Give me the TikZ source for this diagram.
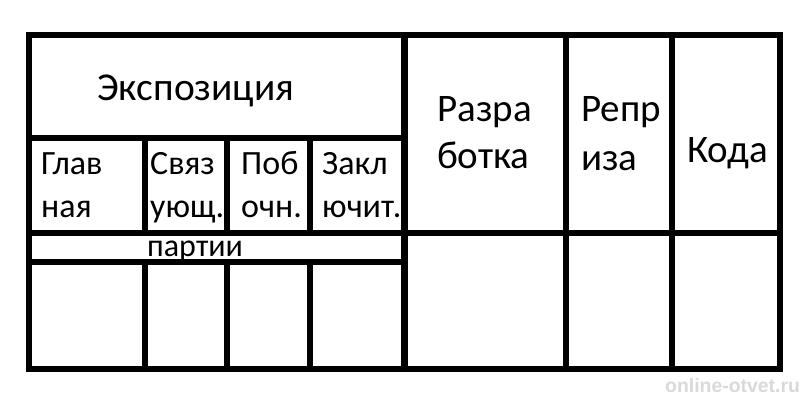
\documentclass[tikz,border=0pt]{standalone}
\usepackage{fontspec}
\setmainfont{Carlito}
\newfontfamily\wmfont{Liberation Sans}
\begin{document}
\begin{tikzpicture}[x=1pt,y=-1pt,
  frame/.style={line width=6pt, draw=black},
  big/.style={font=\fontsize{39.5}{44}\selectfont, anchor=base west, inner sep=0pt},
  col/.style={font=\fontsize{39}{44}\selectfont, anchor=base west, inner sep=0pt},
  cell/.style={font=\fontsize{34}{40}\selectfont, anchor=base west, inner sep=0pt},
  small/.style={font=\fontsize{32}{36}\selectfont, anchor=base west, inner sep=0pt},
  wmark/.style={font=\wmfont\bfseries\fontsize{19.4}{22}\selectfont, text=gray!30, anchor=base west, inner sep=0pt}]
\useasboundingbox[fill=white] (0,0) rectangle (808,400);
% outer frame
\coordinate (tl) at (29,35);
\coordinate (br) at (779.5,369);
\draw[frame] (tl) rectangle (br);
% full-height verticals
\coordinate (v1t) at (404.5,35); \coordinate (v1b) at (404.5,369);
\coordinate (v2t) at (565.5,35); \coordinate (v2b) at (565.5,369);
\coordinate (v3t) at (671.5,35); \coordinate (v3b) at (671.5,369);
\draw[line width=7pt] (v1t) -- (v1b);
\draw[frame] (v2t) -- (v2b);
\draw[frame] (v3t) -- (v3b);
% horizontals
\coordinate (h1l) at (29,137.5); \coordinate (h1r) at (404.5,137.5);
\coordinate (h2l) at (29,233); \coordinate (h2r) at (779.5,233);
\coordinate (h3l) at (29,262); \coordinate (h3r) at (404.5,262);
\draw[frame] (h1l) -- (h1r);
\draw[frame] (h2l) -- (h2r);
\draw[frame] (h3l) -- (h3r);
% short verticals (sub-row and bottom row)
\foreach \x in {144.5,226.5,310} {
  \draw[frame] (\x,137.5) -- (\x,233);
  \draw[frame] (\x,262) -- (\x,369);
}
% texts
\node[big] (expo) at (97,100) {Экспозиция};
\node[cell] (glav1) at (41,174) {Глав};
\node[cell] (glav2) at (41,217) {ная};
\node[cell] (svyaz1) at (150,174) {Связ};
\node[cell] (svyaz2) at (150,217) {ующ.};
\node[cell] (pob1) at (241,174) {Поб};
\node[cell] (pob2) at (241,217) {очн.};
\node[cell] (zakl1) at (322,174) {Закл};
\node[cell] (zakl2) at (322,217) {ючит.};
\node[small] (partii) at (147,256) {партии};
\node[col] (razr1) at (437,121) {Разра};
\node[col] (razr2) at (437,168) {ботка};
\node[col] (repr1) at (581,121) {Репр};
\node[col] (repr2) at (581,170) {иза};
\node[col] (koda) at (687,162) {Кода};
\node[wmark] (wm) at (665,392) {online-otvet.ru};
\end{tikzpicture}
\end{document}
